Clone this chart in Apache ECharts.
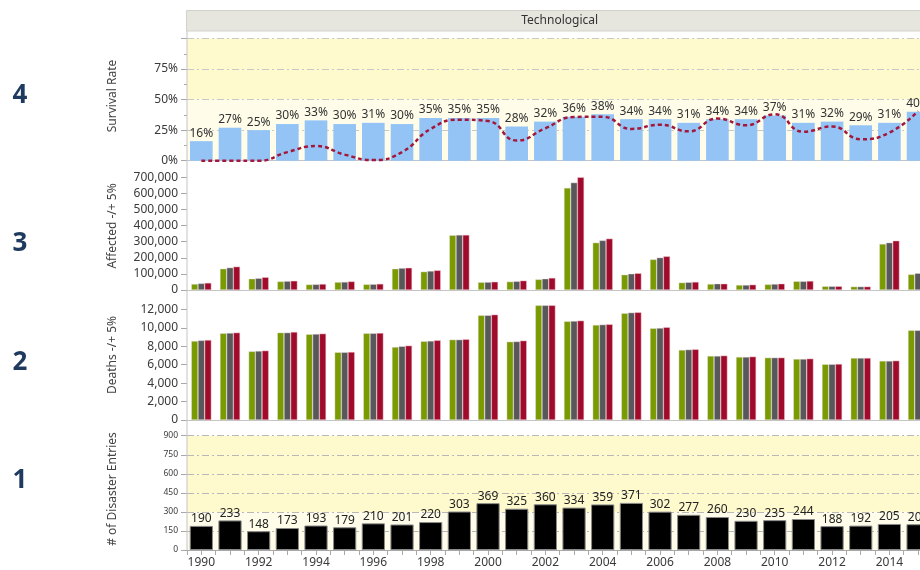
<!DOCTYPE html>
<html>
<head>
<meta charset="utf-8">
<script src="https://cdn.jsdelivr.net/npm/echarts@6/dist/echarts.min.js"></script>
<style>
html,body{margin:0;padding:0;background:#fff;}
#chart{width:920px;height:570px;}
</style>
</head>
<body>
<div id="chart"></div>
<script>
const years = ['1990','1991','1992','1993','1994','1995','1996','1997','1998','1999','2000','2001','2002','2003','2004','2005','2006','2007','2008','2009','2010','2011','2012','2013','2014','2015'];
const survivalRate = [16,27,25,30,33,30,31,30,35,35,35,28,32,36,38,34,34,31,34,34,37,31,32,29,31,40];
const survivalTrend = [0,0,0,7,12,5,0.5,7,26,33.6,32.5,16.5,26.5,35.8,36,26,29.5,24,34.5,29,38,23.7,28,17.6,23,40.5];
const affectedLow  = [37000,132000,70000,53000,34000,49000,35000,132000,114000,340000,48000,52000,66000,634000,294000,95000,190000,46000,37000,31000,35000,54000,23000,21000,286000,97000];
const affectedMid  = [41000,139000,73000,55000,35000,50000,36000,136000,118000,342000,49000,54000,70000,667000,308000,101000,201000,48000,39000,31000,37000,54000,23000,21000,294000,104000];
const affectedHigh = [44000,145000,79000,57000,37000,53000,38000,138000,122000,342000,51000,58000,75000,700000,319000,104000,209000,50000,39000,33000,39000,56000,23000,21000,306000,108000];
const deathsLow  = [8560,9400,7440,9470,9290,7340,9400,7910,8530,8710,11350,8490,12430,10700,10300,11570,9940,7590,6940,6830,6760,6610,6040,6720,6400,9720];
const deathsMid  = [8630,9430,7480,9470,9320,7340,9400,7990,8570,8710,11350,8510,12430,10730,10340,11640,9970,7630,6940,6830,6760,6610,6040,6720,6400,9720];
const deathsHigh = [8670,9470,7520,9540,9360,7370,9430,8060,8640,8750,11420,8600,12430,10770,10370,11670,10050,7660,6980,6870,6760,6650,6070,6720,6430,9760];
const entries = [190,233,148,173,193,179,210,201,220,303,369,325,360,334,359,371,302,277,260,230,235,244,188,192,205,203];
const panelTitles = ['Survival Rate','Affected -/+ 5%','Deaths -/+ 5%','# of Disaster Entries'];
const panelNumbers = ['4','3','2','1'];
const facetTitle = 'Technological';

const FONT = '"Noto Sans", "Open Sans", sans-serif';
const GL = 187, GW = 745.4;
const grids = [
  {top: 38.5, height: 122.2},
  {top: 177.3, height: 112.7},
  {top: 290.85, height: 129.15},
  {top: 435.7, height: 114.3}
];
const fmtNum = v => String(v).replace(/\B(?=(\d{3})+(?!\d))/g, ',');
const dashDot = [7,3,2,3];
const yellow = '#fffacd', pale = '#fffde9';
const axisGray = '#c4c4c4';
const labelColor = '#3a3a3a';

function catAxis(i, extra) {
  return Object.assign({
    type: 'category', data: years, gridIndex: i, boundaryGap: true, position: 'bottom',
    axisLine: {show: true, lineStyle: {color: axisGray, width: 1}},
    axisTick: {show: false}, axisLabel: {show: false}, splitLine: {show: false}
  }, extra || {});
}

const option = {
  animation: false,
  backgroundColor: '#fff',
  textStyle: {fontFamily: FONT},
  grid: grids.map(g => ({left: GL, width: GW, top: g.top, height: g.height, containLabel: false, outerBoundsMode: 'none'})),
  xAxis: [
    catAxis(0), catAxis(1), catAxis(2),
    catAxis(3, {
      axisLine: {show: true, lineStyle: {color: '#a8a8a8'}},
      axisTick: {show: true, interval: 0, alignWithLabel: false, length: 5, lineStyle: {color: '#a8a8a8'}},
      axisLabel: {show: true, interval: 1, fontSize: 12, color: labelColor, margin: 7, fontFamily: FONT}
    }),
    catAxis(3, {
      axisLine: {show: false},
      axisTick: {show: true, interval: 0, alignWithLabel: true, length: 5, lineStyle: {color: '#a8a8a8'}},
      axisLabel: {show: false}
    })
  ],
  yAxis: [
    {
      type: 'value', gridIndex: 0, min: 0, max: 100, interval: 25,
      axisLine: {show: false},
      axisTick: {show: true, length: 6, lineStyle: {color: '#a8a8a8'}},
      minorTick: {show: true, splitNumber: 2, length: 3, lineStyle: {color: '#a8a8a8'}},
      axisLabel: {formatter: '{value}%', fontSize: 12, color: labelColor, margin: 9, showMaxLabel: false, fontFamily: FONT},
      splitLine: {show: true, lineStyle: {color: '#c8c8c8', type: dashDot}},
      splitArea: {show: true, areaStyle: {color: [pale, pale, yellow, yellow]}}
    },
    {
      type: 'value', gridIndex: 1, min: 0, max: 700000, interval: 100000,
      axisLine: {show: false},
      axisTick: {show: true, length: 6, lineStyle: {color: '#a8a8a8'}},
      axisLabel: {formatter: fmtNum, fontSize: 12, color: labelColor, margin: 9, fontFamily: FONT},
      splitLine: {show: false}
    },
    {
      type: 'value', gridIndex: 2, min: 0, max: 14000, interval: 2000,
      axisLine: {show: false},
      axisTick: {show: true, length: 6, lineStyle: {color: '#a8a8a8'}},
      axisLabel: {formatter: fmtNum, fontSize: 12, color: labelColor, margin: 9, showMaxLabel: false, fontFamily: FONT},
      splitLine: {show: false}
    },
    {
      type: 'value', gridIndex: 3, min: 0, max: 900, interval: 150,
      axisLine: {show: false},
      axisTick: {show: true, length: 6, lineStyle: {color: '#a8a8a8'}},
      axisLabel: {fontSize: 8.5, color: labelColor, margin: 9, fontFamily: FONT},
      splitLine: {show: true, lineStyle: {color: '#b8b8b8', type: dashDot}},
      splitArea: {show: true, areaStyle: {color: [pale, pale, yellow, yellow, yellow, yellow]}}
    }
  ],
  series: [
    {
      type: 'bar', name: 'Survival Rate', xAxisIndex: 0, yAxisIndex: 0, data: survivalRate,
      barCategoryGap: '21%', itemStyle: {color: '#94c4f6'},
      label: {show: true, position: 'top', distance: 2, formatter: '{c}%', fontSize: 12, color: '#333', fontFamily: FONT}
    },
    {
      type: 'line', name: 'Trend', xAxisIndex: 0, yAxisIndex: 0, data: survivalTrend,
      smooth: 0.5, symbol: 'none', z: 4,
      lineStyle: {color: '#a3173b', width: 2.5, type: [4, 3]}
    },
    {type: 'bar', name: 'Affected -5%', xAxisIndex: 1, yAxisIndex: 1, data: affectedLow, barGap: '0%', barCategoryGap: '30%', itemStyle: {color: '#7a9a01', borderColor: 'rgba(235,225,225,0.8)', borderWidth: 0.5}},
    {type: 'bar', name: 'Affected', xAxisIndex: 1, yAxisIndex: 1, data: affectedMid, barGap: '0%', barCategoryGap: '30%', itemStyle: {color: '#58585a', borderColor: 'rgba(235,225,225,0.8)', borderWidth: 0.5}},
    {type: 'bar', name: 'Affected +5%', xAxisIndex: 1, yAxisIndex: 1, data: affectedHigh, barGap: '0%', barCategoryGap: '30%', itemStyle: {color: '#a10b2b', borderColor: 'rgba(240,200,210,0.9)', borderWidth: 0.5}},
    {type: 'bar', name: 'Deaths -5%', xAxisIndex: 2, yAxisIndex: 2, data: deathsLow, barGap: '0%', barCategoryGap: '30%', itemStyle: {color: '#7a9a01', borderColor: 'rgba(235,225,225,0.8)', borderWidth: 0.5}},
    {type: 'bar', name: 'Deaths', xAxisIndex: 2, yAxisIndex: 2, data: deathsMid, barGap: '0%', barCategoryGap: '30%', itemStyle: {color: '#58585a', borderColor: 'rgba(235,225,225,0.8)', borderWidth: 0.5}},
    {type: 'bar', name: 'Deaths +5%', xAxisIndex: 2, yAxisIndex: 2, data: deathsHigh, barGap: '0%', barCategoryGap: '30%', itemStyle: {color: '#a10b2b', borderColor: 'rgba(240,200,210,0.9)', borderWidth: 0.5}},
    {
      type: 'bar', name: 'Entries', xAxisIndex: 3, yAxisIndex: 3, data: entries,
      barCategoryGap: '19%', itemStyle: {color: '#000', borderColor: '#8a8a8a', borderWidth: 1},
      label: {show: true, position: 'top', distance: 1, fontSize: 12, color: '#222', fontFamily: FONT}
    }
  ],
  graphic: [
    {type: 'rect', shape: {x: 186.5, y: 10.5, width: 760, height: 20.5}, style: {fill: '#e7e6de', stroke: '#d2d1ca', lineWidth: 1}, z: 10},
    {type: 'text', x: GL + GW / 2, y: 21, style: {text: facetTitle, font: '12px ' + FONT, fill: '#333', textAlign: 'center', textVerticalAlign: 'middle'}, z: 11},
    {type: 'line', shape: {x1: 187, y1: 31, x2: 187, y2: 550}, style: {stroke: '#c4c4c4', lineWidth: 1}, z: 10},
    {type: 'text', x: 113, y: 96, rotation: Math.PI / 2, style: {text: panelTitles[0], font: '12px ' + FONT, fill: '#444', textAlign: 'center', textVerticalAlign: 'middle'}},
    {type: 'text', x: 113, y: 226, rotation: Math.PI / 2, style: {text: panelTitles[1], font: '12px ' + FONT, fill: '#444', textAlign: 'center', textVerticalAlign: 'middle'}},
    {type: 'text', x: 113, y: 355, rotation: Math.PI / 2, style: {text: panelTitles[2], font: '12px ' + FONT, fill: '#444', textAlign: 'center', textVerticalAlign: 'middle'}},
    {type: 'text', x: 113, y: 489, rotation: Math.PI / 2, style: {text: panelTitles[3], font: '12px ' + FONT, fill: '#444', textAlign: 'center', textVerticalAlign: 'middle'}},
    {type: 'text', x: 20, y: 96, style: {text: panelNumbers[0], font: 'bold 26px ' + FONT, fill: '#1f3a5f', textAlign: 'center', textVerticalAlign: 'middle'}},
    {type: 'text', x: 20, y: 244, style: {text: panelNumbers[1], font: 'bold 26px ' + FONT, fill: '#1f3a5f', textAlign: 'center', textVerticalAlign: 'middle'}},
    {type: 'text', x: 20, y: 363, style: {text: panelNumbers[2], font: 'bold 26px ' + FONT, fill: '#1f3a5f', textAlign: 'center', textVerticalAlign: 'middle'}},
    {type: 'text', x: 20, y: 481, style: {text: panelNumbers[3], font: 'bold 26px ' + FONT, fill: '#1f3a5f', textAlign: 'center', textVerticalAlign: 'middle'}}
  ]
};

const chart = echarts.init(document.getElementById('chart'), null, {renderer: 'canvas'});
chart.setOption(option);
</script>
</body>
</html>
